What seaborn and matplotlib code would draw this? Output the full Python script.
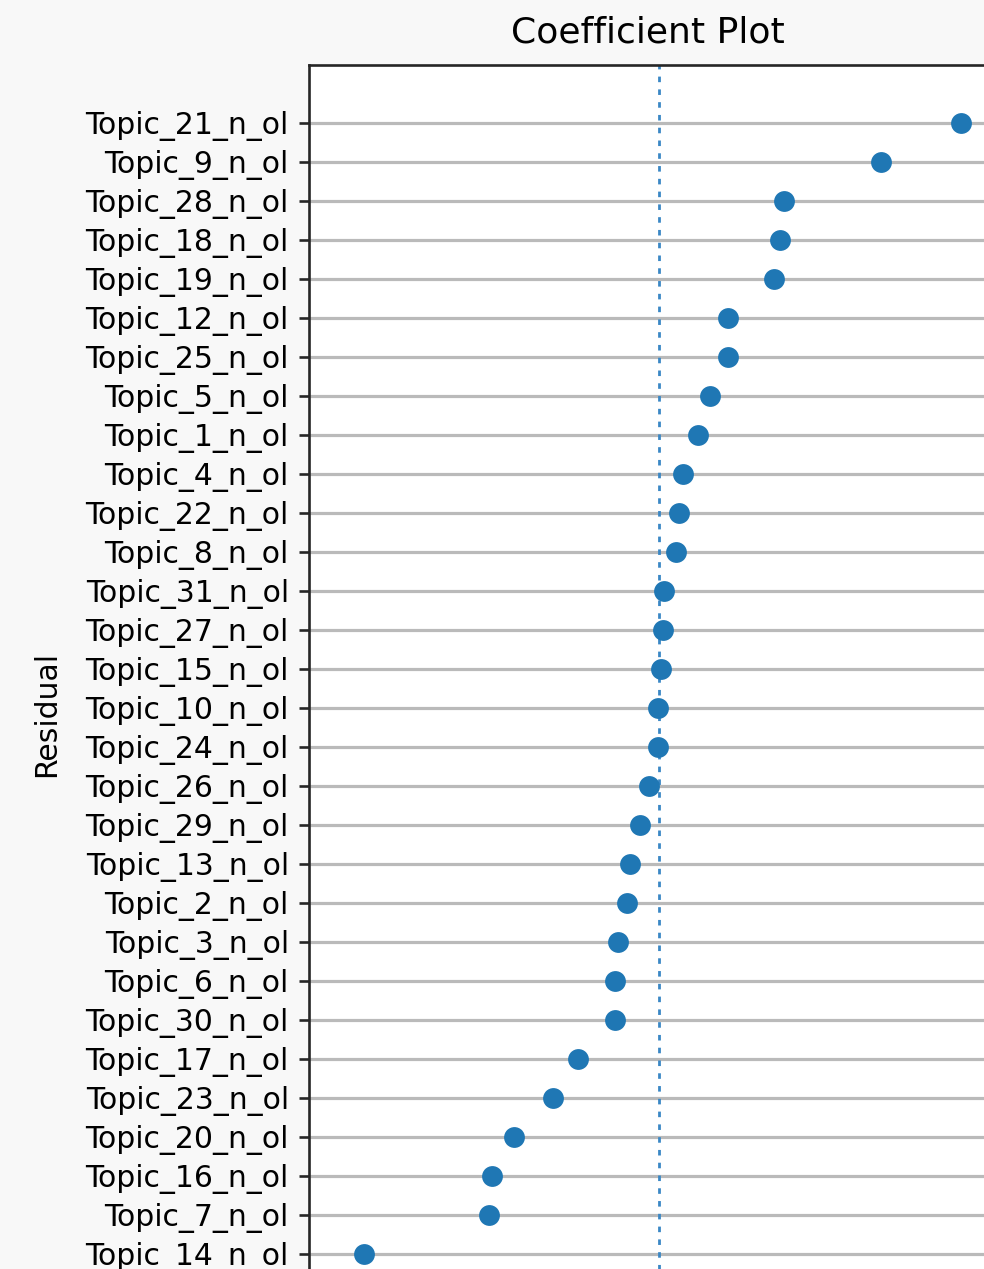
import matplotlib
matplotlib.use("Agg")
import matplotlib.pyplot as plt
import seaborn as sns
import pandas as pd

# Topics ordered from largest to smallest coefficient
topics = [
    "Topic_21_n_ol", "Topic_9_n_ol", "Topic_28_n_ol", "Topic_18_n_ol",
    "Topic_19_n_ol", "Topic_12_n_ol", "Topic_25_n_ol", "Topic_5_n_ol",
    "Topic_1_n_ol", "Topic_4_n_ol", "Topic_22_n_ol", "Topic_8_n_ol",
    "Topic_31_n_ol", "Topic_27_n_ol", "Topic_15_n_ol", "Topic_10_n_ol",
    "Topic_24_n_ol", "Topic_26_n_ol", "Topic_29_n_ol", "Topic_13_n_ol",
    "Topic_2_n_ol", "Topic_3_n_ol", "Topic_6_n_ol", "Topic_30_n_ol",
    "Topic_17_n_ol", "Topic_23_n_ol", "Topic_20_n_ol", "Topic_16_n_ol",
    "Topic_7_n_ol", "Topic_14_n_ol",
]
coefs = [
    0.302, 0.222, 0.125, 0.121, 0.115, 0.069, 0.069, 0.051,
    0.039, 0.024, 0.020, 0.017, 0.005, 0.004, 0.002, -0.001,
    -0.001, -0.010, -0.019, -0.029, -0.032, -0.041, -0.044, -0.044,
    -0.081, -0.106, -0.145, -0.167, -0.170, -0.295,
]

df = pd.DataFrame({"topic": topics, "coef": coefs})

sns.set_style("white")
plt.rcParams["font.family"] = ["DejaVu Sans"]

fig = plt.figure(figsize=(9.84, 12.69), dpi=100, facecolor="#f8f8f8")
ax = fig.add_axes([0.314, -0.074, 0.689, 1.023])
ax.set_facecolor("white")

sns.stripplot(data=df, x="coef", y="topic", order=topics, jitter=False,
              size=15, color="#1f77b4", linewidth=0, ax=ax, zorder=3)

# Reference line at zero
ax.axvline(0, color="#3a87c5", lw=2, ls=(0, (2, 2.6)), zorder=2)

ax.set_xlim(-0.350, 0.328)
ax.set_ylim(31.8, -1.49)

ax.yaxis.grid(True, color="#bababa", lw=2.3, zorder=1)
ax.xaxis.grid(False)
ax.set_axisbelow(True)

for side in ax.spines.values():
    side.set_color("#262626")
    side.set_linewidth(1.9)

ax.tick_params(axis="y", left=True, length=7.5, width=1.9, pad=7,
               labelsize=21.5, colors="#262626", labelcolor="black")
ax.tick_params(axis="x", bottom=False, labelbottom=False)

ax.set_xlabel("")
ax.set_ylabel("Residual", fontsize=21.5, color="black")
ax.yaxis.set_label_coords(-0.366, 0.5)

ax.set_title("Coefficient Plot", fontsize=26, color="black", pad=16)

fig.savefig("out.png", dpi=100, facecolor=fig.get_facecolor())
